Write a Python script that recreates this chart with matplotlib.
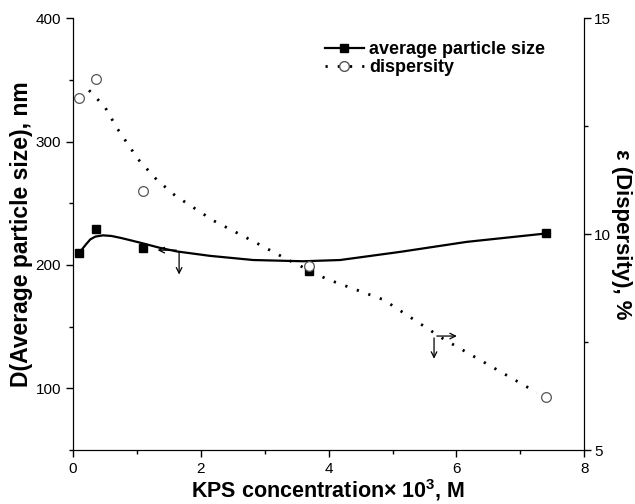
import matplotlib
matplotlib.use("Agg")
import matplotlib.pyplot as plt
from matplotlib.lines import Line2D
from matplotlib.ticker import MultipleLocator

plt.rcParams['font.family'] = ['Liberation Sans', 'DejaVu Sans']
plt.rcParams['mathtext.fontset'] = 'custom'
plt.rcParams['mathtext.rm'] = 'Liberation Sans'
plt.rcParams['mathtext.bf'] = 'Liberation Sans:bold'
plt.rcParams['mathtext.default'] = 'bf'

# measured points
kps = [0.1, 0.36, 1.1, 3.7, 7.4]
size_nm = [210, 229, 214, 195, 226]
dispersity = [13.14, 13.6, 10.99, 9.27, 6.23]

# fitted curves
size_fit_x = [0.11, 0.2, 0.27, 0.35, 0.47, 0.6, 0.74, 0.9, 1.1, 1.35, 1.62, 2.14, 2.82, 3.6, 4.18, 5.12, 6.16, 7.4]
size_fit_y = [210.6, 216.5, 220.7, 223.0, 224.0, 223.5, 222.0, 220.0, 217.4, 214.0, 211.0, 207.4, 204.0, 203.0, 204.0, 210.6, 218.7, 225.5]
disp_fit_x = [0.25, 0.5, 0.69, 1.02, 1.31, 1.6, 2.2, 2.8, 3.37, 3.97, 4.86, 5.8, 7.26]
disp_fit_y = [13.33, 12.94, 12.45, 11.73, 11.26, 10.89, 10.31, 9.85, 9.40, 8.96, 8.48, 7.57, 6.33]

fig = plt.figure(figsize=(6.35, 5.04), dpi=100)
ax = fig.add_axes([0.115, 0.107, 0.805, 0.857])
ax2 = ax.twinx()

ax.plot(size_fit_x, size_fit_y, color='black', lw=1.6)
ax.plot(kps, size_nm, 's', color='black', ms=6)
ax2.plot(disp_fit_x, disp_fit_y, color='black', lw=2.0, linestyle=(0, (0.8, 3.6)))
ax2.plot(kps, dispersity, 'o', mfc='white', mec='#555555', mew=0.9, ms=7)

# arrows pointing to the relevant axes
ax.annotate('', xy=(1.28, 212), xytext=(1.66, 212),
            arrowprops=dict(arrowstyle='->', color='black', lw=0.9))
ax.annotate('', xy=(1.66, 190), xytext=(1.66, 213),
            arrowprops=dict(arrowstyle='->', color='black', lw=0.9))
ax2.annotate('', xy=(6.05, 7.64), xytext=(5.65, 7.64),
             arrowprops=dict(arrowstyle='->', color='black', lw=0.9))
ax2.annotate('', xy=(5.65, 7.05), xytext=(5.65, 7.66),
             arrowprops=dict(arrowstyle='->', color='black', lw=0.9))

ax.set_xlim(0, 8)
ax.set_ylim(50, 400)
ax2.set_ylim(5, 15)
ax.set_xticks([0, 2, 4, 6, 8])
ax.set_yticks([100, 200, 300, 400])
ax2.set_yticks([5, 10, 15])
ax.xaxis.set_minor_locator(MultipleLocator(1))
ax.yaxis.set_minor_locator(MultipleLocator(50))
ax2.yaxis.set_minor_locator(MultipleLocator(2.5))

for a in (ax, ax2):
    a.spines['top'].set_visible(False)
    a.tick_params(which='major', direction='out', length=5, width=1, labelsize=11)
    a.tick_params(which='minor', direction='out', length=3, width=1)
ax2.tick_params(which='major', pad=2)

ax.set_xlabel(r'KPS concentration× 10$^{3}$, M', fontsize=15.5, fontweight='bold', labelpad=1)
ax.set_ylabel('D(Average particle size), nm', fontsize=16.5, fontweight='bold', labelpad=2)
ax2.set_ylabel('ε (Dispersity), %', fontsize=16, fontweight='bold', rotation=270, labelpad=15)

handles = [
    Line2D([], [], color='black', lw=1.6, marker='s', ms=6),
    Line2D([], [], color='black', lw=2.0, linestyle=(0, (0.8, 3.6)),
           marker='o', mfc='white', mec='#555555', ms=7),
]
leg = fig.legend(handles, ['average particle size', 'dispersity'],
                 loc='upper left', bbox_to_anchor=(0.497, 0.936), frameon=False,
                 prop={'weight': 'bold', 'size': 13}, handlelength=2.2,
                 handletextpad=0.25, labelspacing=0.05, borderpad=0)

fig.savefig('out.png', dpi=100)
